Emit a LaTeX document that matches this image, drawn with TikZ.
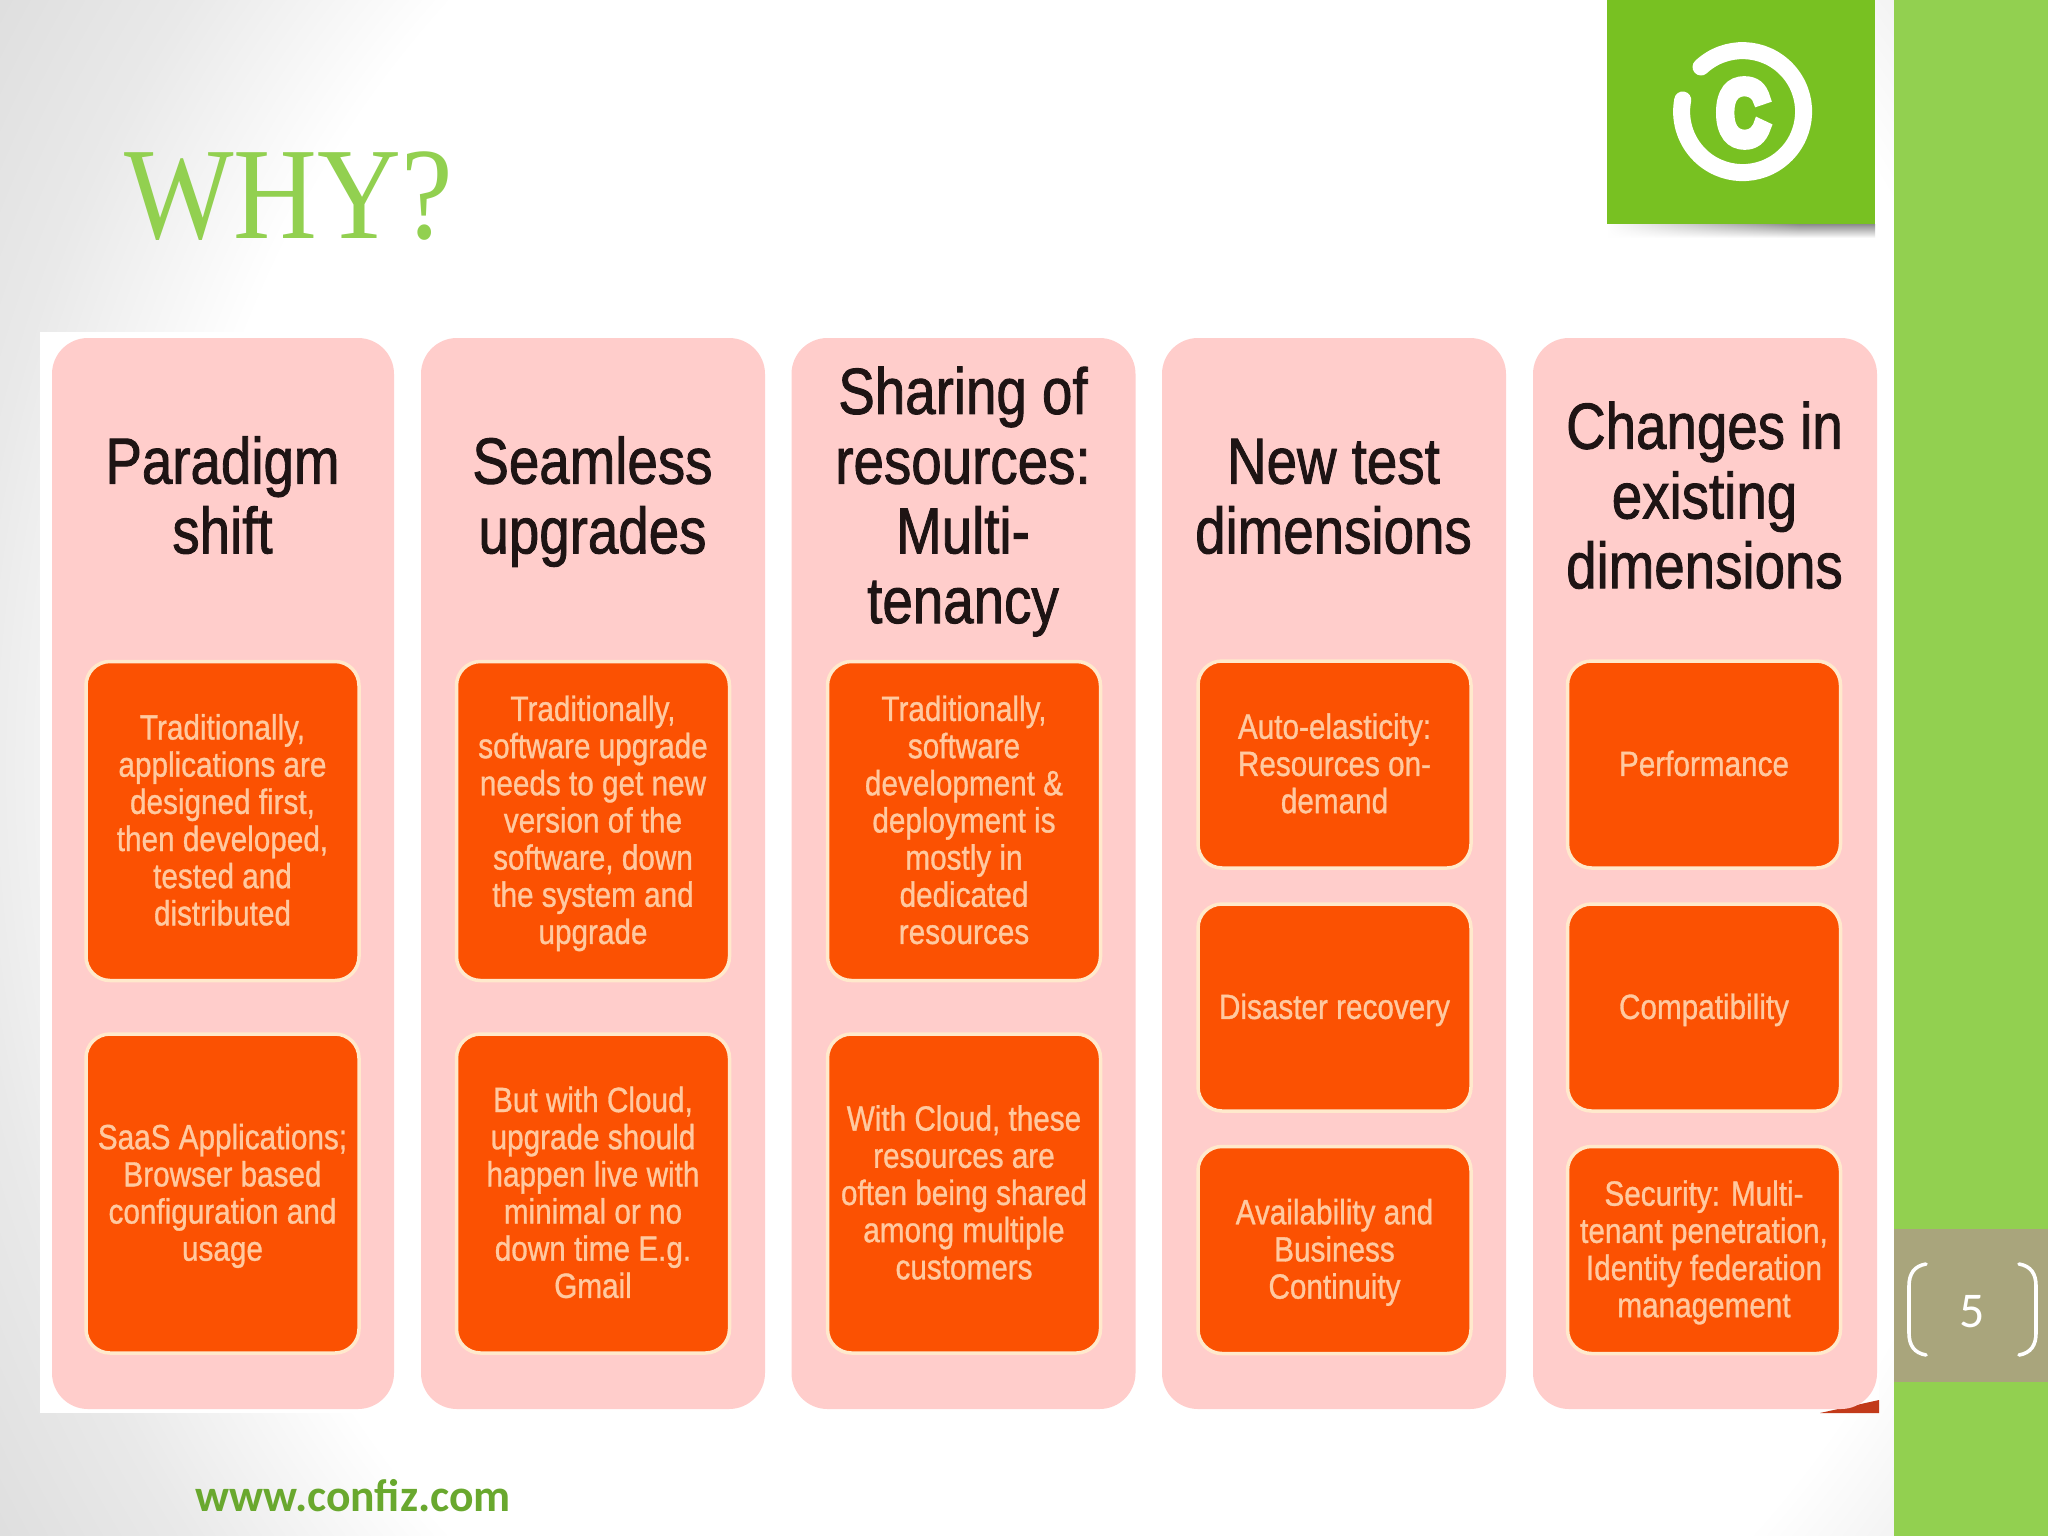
\documentclass[tikz,border=0pt]{standalone}
\usepackage{graphicx}
\usepackage{fontspec}
\usetikzlibrary{fadings}
\setmainfont{Liberation Sans}
\newfontfamily\titlefont{Liberation Serif}
\newfontfamily\footfont{Carlito}
\newfontfamily\headfont[FakeBold=1.5]{Liberation Sans}
\newfontfamily\bodyfont[FakeBold=1]{Liberation Sans}
\newfontfamily\logofont[UprightFont=* Bold,FakeBold=11]{Liberation Sans}
\definecolor{sidegreen}{HTML}{92D050}
\definecolor{tan}{HTML}{A9A57C}
\definecolor{logogreen}{HTML}{78C122}
\definecolor{pinkcol}{HTML}{FFCDCB}
\definecolor{orangebox}{HTML}{FB5102}
\definecolor{cream}{HTML}{FFE9CC}
\definecolor{bodytxt}{HTML}{FFC9A0}
\definecolor{headtxt}{HTML}{1E1414}
\definecolor{footgreen}{HTML}{69A82E}
\definecolor{wedge}{HTML}{C23A1A}
\definecolor{bggrey}{HTML}{D6D6D6}
\definecolor{bgmid}{HTML}{E9E9E9}
\pgfdeclareradialshading{slidebg}{\pgfpoint{0bp}{0bp}}{color(0bp)=(white);color(17.7bp)=(white);color(21.5bp)=(bgmid);color(27bp)=(bggrey);color(50bp)=(bggrey)}
\newcommand{\headtext}[1]{\scalebox{1}[1.19]{\fontsize{54.7}{58.6}\headfont\selectfont\begin{tabular}{@{}c@{}}#1\end{tabular}}}
\newcommand{\boxtext}[1]{\raisebox{-4pt}[\height][\depth]{\scalebox{1}[1.18]{\fontsize{29.7}{31.5}\bodyfont\selectfont\begin{tabular}{@{}c@{}}#1\end{tabular}}}}
\tikzset{
  colpanel/.style={fill=pinkcol,draw=none,rounded corners=36pt,inner sep=0pt,outer sep=0pt},
  headnode/.style={text=headtxt,inner sep=0pt},
  tallbox/.style={fill=orangebox,draw=cream,line width=3.5pt,rounded corners=24pt,inner sep=0pt,outer sep=0pt,text=bodytxt,minimum width=273pt,minimum height=319pt},
  shortbox/.style={tallbox,minimum height=207pt},
  bracket/.style={draw=white,line width=3.6pt,line cap=round}
}
\begin{document}
\begin{tikzpicture}[x=1pt,y=-1pt]
\useasboundingbox (0,0) rectangle (2048,1536);
% slide background
\begin{scope}
\clip (0,0) rectangle (2048,1536);
\path[shading=slidebg] (1100,768) ellipse [x radius=1320,y radius=1500];
\end{scope}
% sidebar
\fill[sidegreen] (1894,0) rectangle (2048,1536);
\fill[tan] (1894,1229) rectangle (2048,1382);
\node[font=\fontsize{50}{50}\selectfont\footfont,text=white,anchor=base,inner sep=0pt] (pagenum) at (1972,1327) {5};
\draw[bracket] (1926,1264) .. controls (1914,1266) and (1909,1274) .. (1909,1286) -- (1909,1333) .. controls (1909,1345) and (1914,1353) .. (1926,1355);
\draw[bracket] (2019,1264) .. controls (2031,1266) and (2036,1274) .. (2036,1286) -- (2036,1333) .. controls (2036,1345) and (2031,1353) .. (2019,1355);
% logo
\shade[top color=gray!90,bottom color=white,draw=none] (1607,224) rectangle (1875,238);
\fill[white,path fading=east] (1607,224) rectangle (1800,238);
\fill[logogreen] (1607,0) rectangle (1875,224);
\coordinate (arcstart) at (1701,67);
\draw[white,line width=17pt,line cap=round] (arcstart) arc[start angle=-133,end angle=191,radius=61];
\node[text=white,inner sep=0pt] (logoc) at (1743,113) {\scalebox{0.8}[1]{\fontsize{90}{90}\logofont\selectfont C}};
% title and footer
\node[font=\titlefont,anchor=base west,inner sep=0pt,text=sidegreen] (title) at (124,238) {\scalebox{1}[1.13]{\fontsize{116}{116}\selectfont WHY?}};
\node[font=\fontsize{45.6}{45.6}\selectfont\footfont\bfseries,anchor=base west,inner sep=0pt,text=footgreen] (footer) at (195,1511) {www.confiz.com};
% picture backing
\fill[white] (40,332) rectangle (1879,1413);
\fill[wedge] (1820,1413) -- (1879,1400) -- (1879,1413) -- cycle;
% columns
\node[colpanel,minimum width=342pt,minimum height=1071pt] (c1) at (223,873.5) {};
\node[colpanel,minimum width=344pt,minimum height=1071pt] (c2) at (593,873.5) {};
\node[colpanel,minimum width=344pt,minimum height=1071pt] (c3) at (963.5,873.5) {};
\node[colpanel,minimum width=344pt,minimum height=1071pt] (c4) at (1334,873.5) {};
\node[colpanel,minimum width=344pt,minimum height=1071pt] (c5) at (1705,873.5) {};
% headings
\node[headnode] (h1) at (222.5,504.5) {\headtext{Paradigm\\shift}};
\node[headnode] (h2) at (592.5,504.5) {\headtext{Seamless\\upgrades}};
\node[headnode] (h3) at (963,504.5) {\headtext{Sharing of\\resources:\\Multi-\\tenancy}};
\node[headnode] (h4) at (1333.5,504.5) {\headtext{New test\\dimensions}};
\node[headnode] (h5) at (1704.5,504.5) {\headtext{Changes in\\existing\\dimensions}};
% column 1
\node[tallbox] (b11) at (222.5,821) {\boxtext{Traditionally,\\applications are\\designed first,\\then developed,\\tested and\\distributed}};
\node[tallbox] (b12) at (222.5,1193.5) {\boxtext{SaaS Applications;\\Browser based\\configuration and\\usage}};
% column 2
\node[tallbox] (b21) at (593,821) {\boxtext{Traditionally,\\software upgrade\\needs to get new\\version of the\\software, down\\the system and\\upgrade}};
\node[tallbox] (b22) at (593,1193.5) {\boxtext{But with Cloud,\\upgrade should\\happen live with\\minimal or no\\down time E.g.\\Gmail}};
% column 3
\node[tallbox] (b31) at (964,821) {\boxtext{Traditionally,\\software\\development \&\\deployment is\\mostly in\\dedicated\\resources}};
\node[tallbox] (b32) at (964,1193.5) {\boxtext{With Cloud, these\\resources are\\often being shared\\among multiple\\customers}};
% column 4
\node[shortbox] (b41) at (1334.5,764.5) {\boxtext{Auto-elasticity:\\Resources on-\\demand}};
\node[shortbox] (b42) at (1334.5,1007.5) {\boxtext{Disaster recovery}};
\node[shortbox] (b43) at (1334.5,1250) {\boxtext{Availability and\\Business\\Continuity}};
% column 5
\node[shortbox] (b51) at (1704,764.5) {\boxtext{Performance}};
\node[shortbox] (b52) at (1704,1007.5) {\boxtext{Compatibility}};
\node[shortbox] (b53) at (1704,1250) {\boxtext{Security: Multi-\\tenant penetration,\\Identity federation\\management}};
\end{tikzpicture}
\end{document}
